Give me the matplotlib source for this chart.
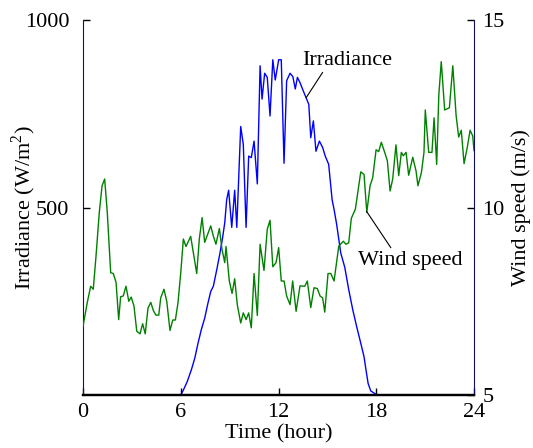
import matplotlib
matplotlib.use("Agg")
import matplotlib.pyplot as plt

plt.rcParams["font.family"] = "serif"
plt.rcParams["font.serif"] = ["Liberation Serif", "DejaVu Serif"]
plt.rcParams["mathtext.fontset"] = "custom"
plt.rcParams["mathtext.rm"] = "Liberation Serif"
plt.rcParams["font.size"] = 16

# Irradiance (W/m^2)
irr_hour = [0.0, 6.0, 6.16, 6.40, 6.65, 6.86, 7.06, 7.26, 7.47, 7.67, 7.84, 8.00,
            8.21, 8.41, 8.57, 8.70, 8.82, 8.94, 9.13, 9.31, 9.44, 9.68, 9.84, 10.01,
            10.17, 10.33, 10.50, 10.70, 10.87, 10.99, 11.15, 11.31, 11.48, 11.65,
            11.80, 12.01, 12.17, 12.34, 12.50, 12.71, 12.88, 13.03, 13.16, 13.32,
            13.52, 13.69, 13.86, 13.98, 14.14, 14.30, 14.51, 14.71, 14.87, 15.08,
            15.29, 15.41, 15.57, 15.82, 16.07, 16.31, 16.56, 16.80, 17.05, 17.25,
            17.37, 17.50, 17.66, 17.94, 18.0, 24.0]
irradiance = [0, 0, 13, 36, 67, 98, 138, 174, 205, 245, 276, 290,
              334, 379, 420, 459, 521, 546, 447, 546, 447, 716, 668, 447,
              637, 633, 677, 563, 878, 789, 858, 847, 744, 894,
              840, 894, 894, 618, 838, 858, 849, 816, 847, 833,
              811, 793, 775, 686, 731, 650, 677, 660, 637, 615,
              521, 495, 455, 379, 340, 281, 227, 182, 138, 102,
              67, 31, 11, 3, 0, 0]

# Wind speed (m/s)
wind_hour = [0.0, 0.26, 0.47, 0.63, 0.80, 1.00, 1.17, 1.33, 1.49, 1.70, 1.86, 2.03,
             2.19, 2.31, 2.47, 2.64, 2.81, 2.96, 3.13, 3.30, 3.50, 3.66, 3.82, 3.99,
             4.16, 4.32, 4.48, 4.65, 4.77, 4.97, 5.14, 5.34, 5.51, 5.67, 5.83, 6.00,
             6.16, 6.32, 6.61, 6.98, 7.14, 7.31, 7.47, 7.84, 8.00, 8.16, 8.37, 8.53,
             8.70, 8.78, 8.98, 9.15, 9.31, 9.47, 9.68, 9.84, 10.01, 10.17, 10.33,
             10.50, 10.70, 10.87, 11.11, 11.31, 11.48, 11.65, 11.85, 12.01, 12.17,
             12.34, 12.50, 12.71, 12.87, 13.08, 13.32, 13.61, 13.77, 13.98, 14.18,
             14.38, 14.55, 14.71, 14.84, 15.04, 15.21, 15.41, 15.70, 15.98, 16.14,
             16.31, 16.47, 16.72, 17.05, 17.25, 17.42, 17.62, 17.78, 17.99, 18.15,
             18.31, 18.48, 18.68, 18.85, 19.01, 19.21, 19.38, 19.54, 19.66, 19.83,
             19.99, 20.24, 20.44, 20.56, 20.77, 20.93, 21.01, 21.22, 21.42, 21.55,
             21.71, 21.84, 21.99, 22.20, 22.49, 22.70, 22.90, 23.06, 23.22, 23.39,
             23.59, 23.76, 23.92, 24.0]
wind_speed = [6.83, 7.46, 7.90, 7.82, 8.71, 9.87, 10.58, 10.76, 9.87, 8.26, 8.24, 8.00,
              7.01, 7.62, 7.64, 7.90, 7.50, 7.61, 7.37, 6.70, 6.63, 6.90, 6.63, 7.32,
              7.47, 7.25, 7.13, 7.13, 7.59, 7.82, 7.50, 6.72, 7.00, 7.00, 7.46, 8.26,
              9.16, 8.96, 9.23, 8.24, 9.16, 9.73, 9.07, 9.51, 9.24, 9.02, 9.44, 8.89,
              8.53, 8.96, 8.04, 7.71, 8.10, 7.41, 6.92, 7.19, 7.01, 7.19, 6.79,
              8.24, 7.12, 9.02, 8.32, 9.42, 9.66, 8.42, 8.53, 8.93, 8.04,
              8.04, 7.64, 7.41, 8.04, 7.23, 7.91, 7.90, 8.04, 7.33, 7.86,
              7.84, 7.64, 7.59, 7.21, 8.24, 8.24, 8.04, 8.97, 9.10, 9.02,
              9.06, 9.71, 9.96, 10.95, 10.88, 9.87, 10.58, 10.79, 11.54, 11.49,
              11.74, 11.52, 11.25, 10.44, 10.76, 11.67, 10.85, 11.47, 11.38, 11.47,
              10.86, 11.34, 10.98, 10.58, 10.93, 11.47, 12.60, 11.47, 11.47, 12.39,
              11.15, 13.00, 13.89, 12.60, 12.66, 13.78, 12.46, 11.88, 12.06, 11.17,
              11.61, 12.06, 11.91, 11.52]

hour_ticks = [0, 6, 12, 18, 24]
irr_ticks = [500, 1000]
wind_ticks = [5, 10, 15]

fig = plt.figure(figsize=(5.33, 4.48), dpi=100)
ax = fig.add_axes([83 / 533, 53 / 448, 391 / 533, 375 / 448])
ax2 = ax.twinx()

ax.plot(irr_hour, irradiance, color="blue", lw=1.0, zorder=1)
ax2.plot(wind_hour, wind_speed, color="green", lw=1.0)

ax.set_xlim(0, 24)
ax.set_ylim(0, 1000)
ax2.set_ylim(5, 15)
ax.set_xticks(hour_ticks)
ax.set_yticks(irr_ticks)
ax2.set_yticks(wind_ticks)

for a in (ax, ax2):
    a.spines["top"].set_visible(False)
    a.tick_params(direction="in", length=5, width=1, pad=6)
ax.tick_params(axis="y", pad=10)
ax.spines["left"].set_color("#101060")
ax2.spines["right"].set_color("#101060")
ax2.spines["left"].set_visible(False)
ax.spines["right"].set_visible(False)
ax.spines["bottom"].set_linewidth(1.6)
ax2.spines["bottom"].set_linewidth(1.6)

ax.set_xlabel("Time (hour)")
ax.set_ylabel("Irradiance (W/m$^2$)")
ax2.set_ylabel("Wind speed (m/s)")
ax.xaxis.set_label_coords(0.5, -0.078)
ax.yaxis.set_label_coords(-0.115, 0.5)
ax2.yaxis.set_label_coords(1.095, 0.5)

ax.annotate("Irradiance", xy=(13.7, 793), xytext=(16.2, 893),
            ha="center", va="center", fontsize=16,
            arrowprops=dict(arrowstyle="-", color="black", lw=0.8,
                            shrinkA=0, shrinkB=0, relpos=(0.25, 0)))
ax2.annotate("Wind speed", xy=(17.4, 9.9), xytext=(20.1, 8.6),
             ha="center", va="center", fontsize=16,
             arrowprops=dict(arrowstyle="-", color="black", lw=0.8,
                             shrinkA=0, shrinkB=0, relpos=(0.33, 1)))

fig.savefig("out.png", dpi=100)
